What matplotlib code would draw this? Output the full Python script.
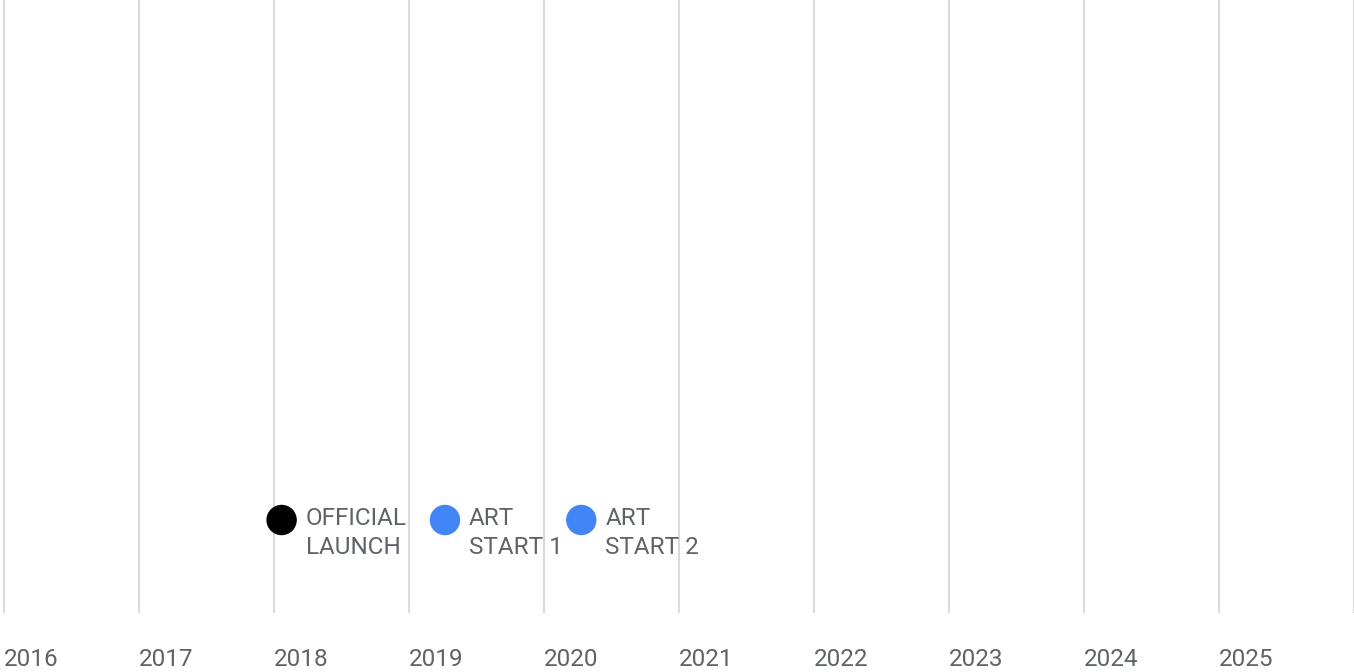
import matplotlib
matplotlib.use("Agg")
import matplotlib.pyplot as plt

# years on the axis (gridlines) and the labelled ones
years = list(range(2016, 2027))
year_labels = [str(y) for y in range(2016, 2026)]

# timeline events (fractional years)
event_names = ["OFFICIAL\nLAUNCH", "ART\nSTART 1", "ART\nSTART 2"]
event_dates = [2018.06, 2019.27, 2020.28]
event_colors = ["#000000", "#4285F4", "#4285F4"]

W, H, DPI = 1354, 672, 100
px_per_year = 135.0
x0_px = 3.5

fig = plt.figure(figsize=(W / DPI, H / DPI), dpi=DPI)
ax = fig.add_axes([0, 0, 1, 1])
ax.set_xlim(2016 - x0_px / px_per_year, 2016 + (W - x0_px) / px_per_year)
ax.set_ylim(0, H)
ax.axis("off")

plt.rcParams["font.family"] = ["Roboto", "DejaVu Sans"]

# vertical year lines
line_bottom = H - 613
for y in years:
    ax.plot([y, y], [line_bottom, H], color="#dadada", lw=1.5, solid_capstyle="butt", zorder=1)

# year labels under the lines
for y, lab in zip(years, year_labels):
    ax.text(y + 0.5 / px_per_year, 0.5, lab, ha="left", va="bottom",
            fontsize=17.5, color="#5f6368", family=["Roboto", "DejaVu Sans"])

# event dots and labels
dot_y = H - 520
ax.scatter(event_dates, [dot_y] * len(event_dates), s=480, c=event_colors,
           edgecolors="none", zorder=3)
for d, name in zip(event_dates, event_names):
    ax.text(d + 24 / px_per_year, H - 507, name, ha="left", va="top",
            fontsize=17.5, color="#5f6368", linespacing=1.32,
            family=["Roboto", "DejaVu Sans"], zorder=4)

fig.savefig("out.png", dpi=DPI)
